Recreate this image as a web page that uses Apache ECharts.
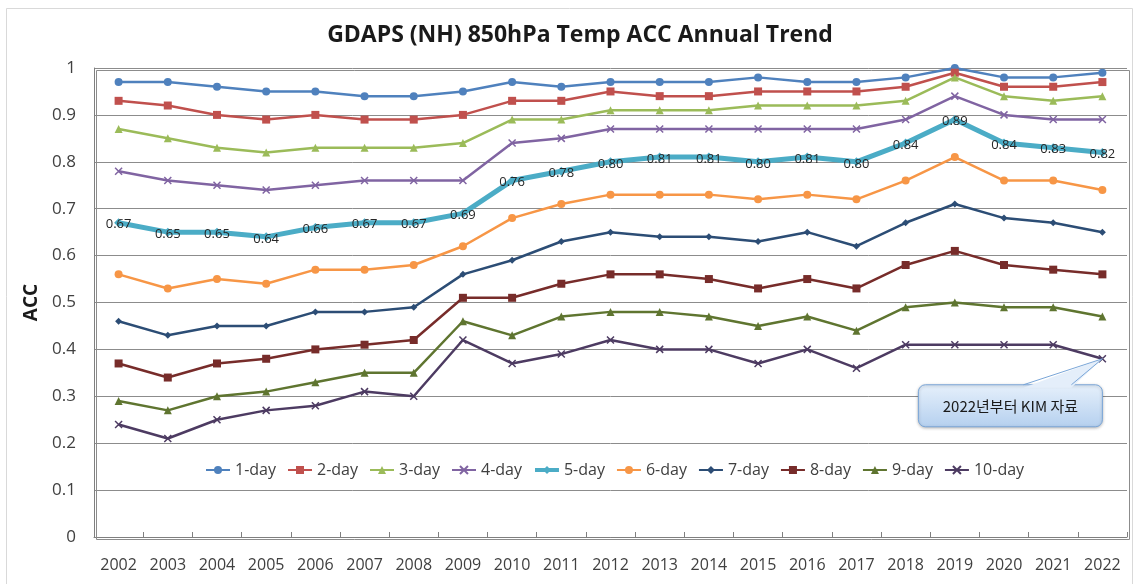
<!DOCTYPE html>
<html>
<head>
<meta charset="utf-8">
<title>GDAPS (NH) 850hPa Temp ACC Annual Trend</title>
<script src="https://cdn.jsdelivr.net/npm/echarts@6/dist/echarts.min.js"></script>
<style>
  html, body { margin: 0; padding: 0; background: #fff; }
  #chart { width: 1134px; height: 584px; }
</style>
</head>
<body>
<div id="chart"></div>
<script>
// years on the x axis
const years = ["2002", "2003", "2004", "2005", "2006", "2007", "2008", "2009", "2010", "2011",
  "2012", "2013", "2014", "2015", "2016", "2017", "2018", "2019", "2020", "2021", "2022"];

// ACC by forecast day
const day1 = [0.97, 0.97, 0.96, 0.95, 0.95, 0.94, 0.94, 0.95, 0.97, 0.96, 0.97, 0.97, 0.97, 0.98, 0.97, 0.97, 0.98, 1.00, 0.98, 0.98, 0.99];
const day2 = [0.93, 0.92, 0.90, 0.89, 0.90, 0.89, 0.89, 0.90, 0.93, 0.93, 0.95, 0.94, 0.94, 0.95, 0.95, 0.95, 0.96, 0.99, 0.96, 0.96, 0.97];
const day3 = [0.87, 0.85, 0.83, 0.82, 0.83, 0.83, 0.83, 0.84, 0.89, 0.89, 0.91, 0.91, 0.91, 0.92, 0.92, 0.92, 0.93, 0.98, 0.94, 0.93, 0.94];
const day4 = [0.78, 0.76, 0.75, 0.74, 0.75, 0.76, 0.76, 0.76, 0.84, 0.85, 0.87, 0.87, 0.87, 0.87, 0.87, 0.87, 0.89, 0.94, 0.90, 0.89, 0.89];
const day5 = [0.67, 0.65, 0.65, 0.64, 0.66, 0.67, 0.67, 0.69, 0.76, 0.78, 0.80, 0.81, 0.81, 0.80, 0.81, 0.80, 0.84, 0.89, 0.84, 0.83, 0.82];
const day6 = [0.56, 0.53, 0.55, 0.54, 0.57, 0.57, 0.58, 0.62, 0.68, 0.71, 0.73, 0.73, 0.73, 0.72, 0.73, 0.72, 0.76, 0.81, 0.76, 0.76, 0.74];
const day7 = [0.46, 0.43, 0.45, 0.45, 0.48, 0.48, 0.49, 0.56, 0.59, 0.63, 0.65, 0.64, 0.64, 0.63, 0.65, 0.62, 0.67, 0.71, 0.68, 0.67, 0.65];
const day8 = [0.37, 0.34, 0.37, 0.38, 0.40, 0.41, 0.42, 0.51, 0.51, 0.54, 0.56, 0.56, 0.55, 0.53, 0.55, 0.53, 0.58, 0.61, 0.58, 0.57, 0.56];
const day9 = [0.29, 0.27, 0.30, 0.31, 0.33, 0.35, 0.35, 0.46, 0.43, 0.47, 0.48, 0.48, 0.47, 0.45, 0.47, 0.44, 0.49, 0.50, 0.49, 0.49, 0.47];
const day10 = [0.24, 0.21, 0.25, 0.27, 0.28, 0.31, 0.30, 0.42, 0.37, 0.39, 0.42, 0.40, 0.40, 0.37, 0.40, 0.36, 0.41, 0.41, 0.41, 0.41, 0.38];

const seriesNames = ["1-day", "2-day", "3-day", "4-day", "5-day", "6-day", "7-day", "8-day", "9-day", "10-day"];
const calloutText = "2022년부터 KIM 자료";

const fontFamily = '"Open Sans", "Noto Sans", "Noto Sans CJK KR", sans-serif';
const xMark = "path://M0,0L10,10M10,0L0,10";

// style per series: colour, symbol, size, line width
const styles = [
  { color: "#4F81BD", symbol: "circle", size: 8 },
  { color: "#C0504D", symbol: "rect", size: 8 },
  { color: "#9BBB59", symbol: "triangle", size: 8 },
  { color: "#8064A2", symbol: xMark, size: 7 },
  { color: "#4BACC6", symbol: "diamond", size: 9, width: 5 },
  { color: "#F79646", symbol: "circle", size: 8 },
  { color: "#2C4D75", symbol: "diamond", size: 7 },
  { color: "#772C2A", symbol: "rect", size: 8 },
  { color: "#5F7530", symbol: "triangle", size: 8 },
  { color: "#4D3B62", symbol: xMark, size: 7 }
];
const allData = [day1, day2, day3, day4, day5, day6, day7, day8, day9, day10];

const chart = echarts.init(document.getElementById("chart"));

const series = allData.map((d, i) => {
  const s = styles[i];
  const isX = s.symbol === xMark;
  return {
    name: seriesNames[i],
    type: "line",
    data: d,
    symbol: s.symbol,
    symbolSize: s.size,
    lineStyle: { color: s.color, width: s.width || 2.5 },
    itemStyle: isX
      ? { color: "transparent", borderColor: s.color, borderWidth: 1.5 }
      : { color: s.color, borderWidth: 0 },
    emphasis: { disabled: true },
    z: i === 4 ? 3 : 2,
    label: i === 4 ? {
      show: true,
      position: "inside",
      offset: [0, 2],
      formatter: p => p.value.toFixed(2),
      color: "#262626",
      fontSize: 13,
      fontFamily: fontFamily
    } : { show: false }
  };
});

// legend entries; the 5-day entry keeps its thick line
const legendData = seriesNames.map((n, i) =>
  styles[i].width ? { name: n, lineStyle: { width: 4 } } : { name: n });

chart.setOption({
  animation: false,
  backgroundColor: "#fff",
  title: {
    text: "GDAPS (NH) 850hPa Temp ACC Annual Trend",
    left: 575,
    textAlign: "center",
    top: 19,
    textStyle: { fontSize: 23, fontWeight: "bold", color: "#1a1a1a", fontFamily: fontFamily }
  },
  legend: {
    data: legendData,
    top: 457,
    left: 200,
    itemWidth: 24,
    itemHeight: 10,
    itemGap: 11,
    textStyle: { fontSize: 16, color: "#404040", fontFamily: fontFamily }
  },
  grid: { left: 94, right: 7, top: 68, bottom: 47 },
  xAxis: {
    type: "category",
    data: years,
    boundaryGap: true,
    axisLine: { lineStyle: { color: "#7f7f7f", width: 1 } },
    axisTick: { show: true, inside: true, length: 5, lineStyle: { color: "#7f7f7f" } },
    axisLabel: { fontSize: 16, color: "#404040", margin: 20, fontFamily: fontFamily }
  },
  yAxis: {
    type: "value",
    min: 0,
    max: 1,
    interval: 0.1,
    name: "ACC",
    nameLocation: "middle",
    nameGap: 52,
    nameRotate: 90,
    nameTextStyle: { fontSize: 19, fontWeight: "bold", color: "#1a1a1a", fontFamily: fontFamily },
    axisLine: { show: true, lineStyle: { color: "#7f7f7f" } },
    axisTick: { show: false },
    axisLabel: { fontSize: 17, color: "#404040", margin: 18, fontFamily: fontFamily },
    splitLine: { lineStyle: { color: "#8c8c8c", width: 1 } }
  },
  series: series
});

// frame, plot border and the callout that points at the last 10-day value
function drawExtras() {
  const tip = chart.convertToPixel({ xAxisIndex: 0, yAxisIndex: 0 }, [years.length - 1, day10[day10.length - 1]]);
  const grad = new echarts.graphic.LinearGradient(0, 0, 0, 1, [
    { offset: 0, color: "#e6f0fb" },
    { offset: 1, color: "#b5d0ef" }
  ]);
  const bx = tip[0] - 184, by = tip[1] + 26, bw = 184, bh = 42;
  chart.setOption({
    graphic: [
      {
        type: "rect", left: 4, top: 6, z: 0, silent: true,
        shape: { width: 1126, height: 584 },
        style: { fill: "none", stroke: "#d9d9d9", lineWidth: 1 }
      },
      {
        type: "rect", left: 94, top: 68, z: 1, silent: true,
        shape: { width: 1033, height: 469 },
        style: { fill: "none", stroke: "#8c8c8c", lineWidth: 1 }
      },
      {
        type: "rect", z: 10, silent: true,
        shape: { x: bx, y: by, width: bw, height: bh, r: 7 },
        style: { fill: grad, stroke: "#7aa6d8", lineWidth: 1, shadowBlur: 3, shadowColor: "rgba(0,0,0,0.25)", shadowOffsetY: 1 }
      },
      {
        type: "polygon", z: 11, silent: true,
        shape: { points: [[tip[0], tip[1]], [bx + 105, by + 3], [bx + 153, by + 3]] },
        style: { fill: "#e4eefa" }
      },
      {
        type: "polyline", z: 12, silent: true,
        shape: { points: [[bx + 105, by], [tip[0], tip[1]], [bx + 153, by]] },
        style: { stroke: "#7aa6d8", lineWidth: 1, fill: "none" }
      },
      {
        type: "text", z: 13, silent: true,
        style: {
          text: calloutText, x: bx + bw / 2, y: by + bh / 2 + 1,
          align: "center", verticalAlign: "middle",
          fontSize: 15, fill: "#1a1a1a", fontFamily: '"Noto Sans CJK KR", "Noto Sans", sans-serif'
        }
      }
    ]
  });
}
drawExtras();
</script>
</body>
</html>
